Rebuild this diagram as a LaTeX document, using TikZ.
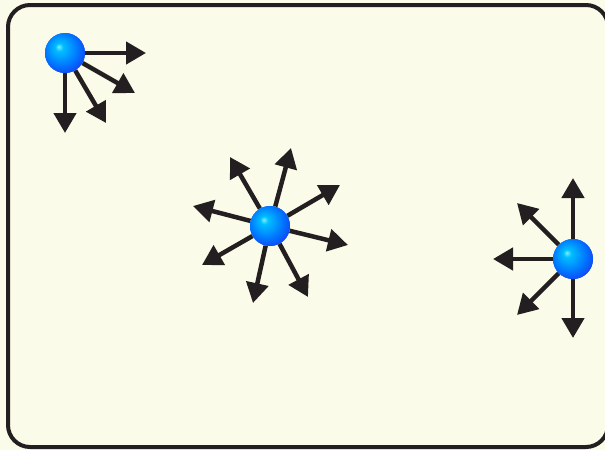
\documentclass[tikz,border=0pt]{standalone}
\usetikzlibrary{arrows.meta}
\definecolor{paper}{RGB}{250,251,232}
\definecolor{ink}{RGB}{35,31,32}
\definecolor{ballhl}{RGB}{120,240,255}
\definecolor{ballmid}{RGB}{0,190,255}
\definecolor{ballout}{RGB}{0,120,255}
\definecolor{balledge}{RGB}{20,60,240}
\pgfdeclareradialshading{bluesphere}{\pgfqpoint{-8bp}{8bp}}{color(0bp)=(ballhl); color(5bp)=(ballmid); color(20bp)=(ballout); color(32bp)=(balledge); color(50bp)=(balledge)}

\begin{document}
\begin{tikzpicture}[x=1pt, y=-1pt, ball/.style={circle, minimum size=40pt, inner sep=0pt, shading=bluesphere}, push/.style={ink, line width=4.5pt, -{Triangle[length=20pt, width=22pt]}}]
\useasboundingbox[fill=paper] (0,0) rectangle (605,450);
\draw[ink, line width=4pt, rounded corners=22pt] (8,5) rectangle (608,447);

% corner ball
\coordinate (c1e) at (146,53);
\coordinate (c1se) at (135,93);
\coordinate (c1ss) at (106,123);
\coordinate (c1s) at (65,133);
\node[ball] (corner) at (65,53) {};
\draw[push] (corner) -- (c1e);
\draw[push] (corner) -- (c1se);
\draw[push] (corner) -- (c1ss);
\draw[push] (corner) -- (c1s);
\node[ball] at (corner) {};

% middle ball
\coordinate (m1) at (230,157);
\coordinate (m2) at (291,148);
\coordinate (m3) at (340,185);
\coordinate (m4) at (348,245);
\coordinate (m5) at (308,297);
\coordinate (m6) at (253,303);
\coordinate (m7) at (202,265);
\coordinate (m8) at (193,206);
\node[ball] (middle) at (270,226) {};
\draw[push] (middle) -- (m1);
\draw[push] (middle) -- (m2);
\draw[push] (middle) -- (m3);
\draw[push] (middle) -- (m4);
\draw[push] (middle) -- (m5);
\draw[push] (middle) -- (m6);
\draw[push] (middle) -- (m7);
\draw[push] (middle) -- (m8);
\node[ball] at (middle) {};

% wall ball
\coordinate (w1) at (573,178);
\coordinate (w2) at (517,203);
\coordinate (w3) at (493,259);
\coordinate (w4) at (517,315);
\coordinate (w5) at (573,338);
\node[ball] (wall) at (573,259) {};
\draw[push] (wall) -- (w1);
\draw[push] (wall) -- (w2);
\draw[push] (wall) -- (w3);
\draw[push] (wall) -- (w4);
\draw[push] (wall) -- (w5);
\node[ball] at (wall) {};
\end{tikzpicture}
\end{document}
